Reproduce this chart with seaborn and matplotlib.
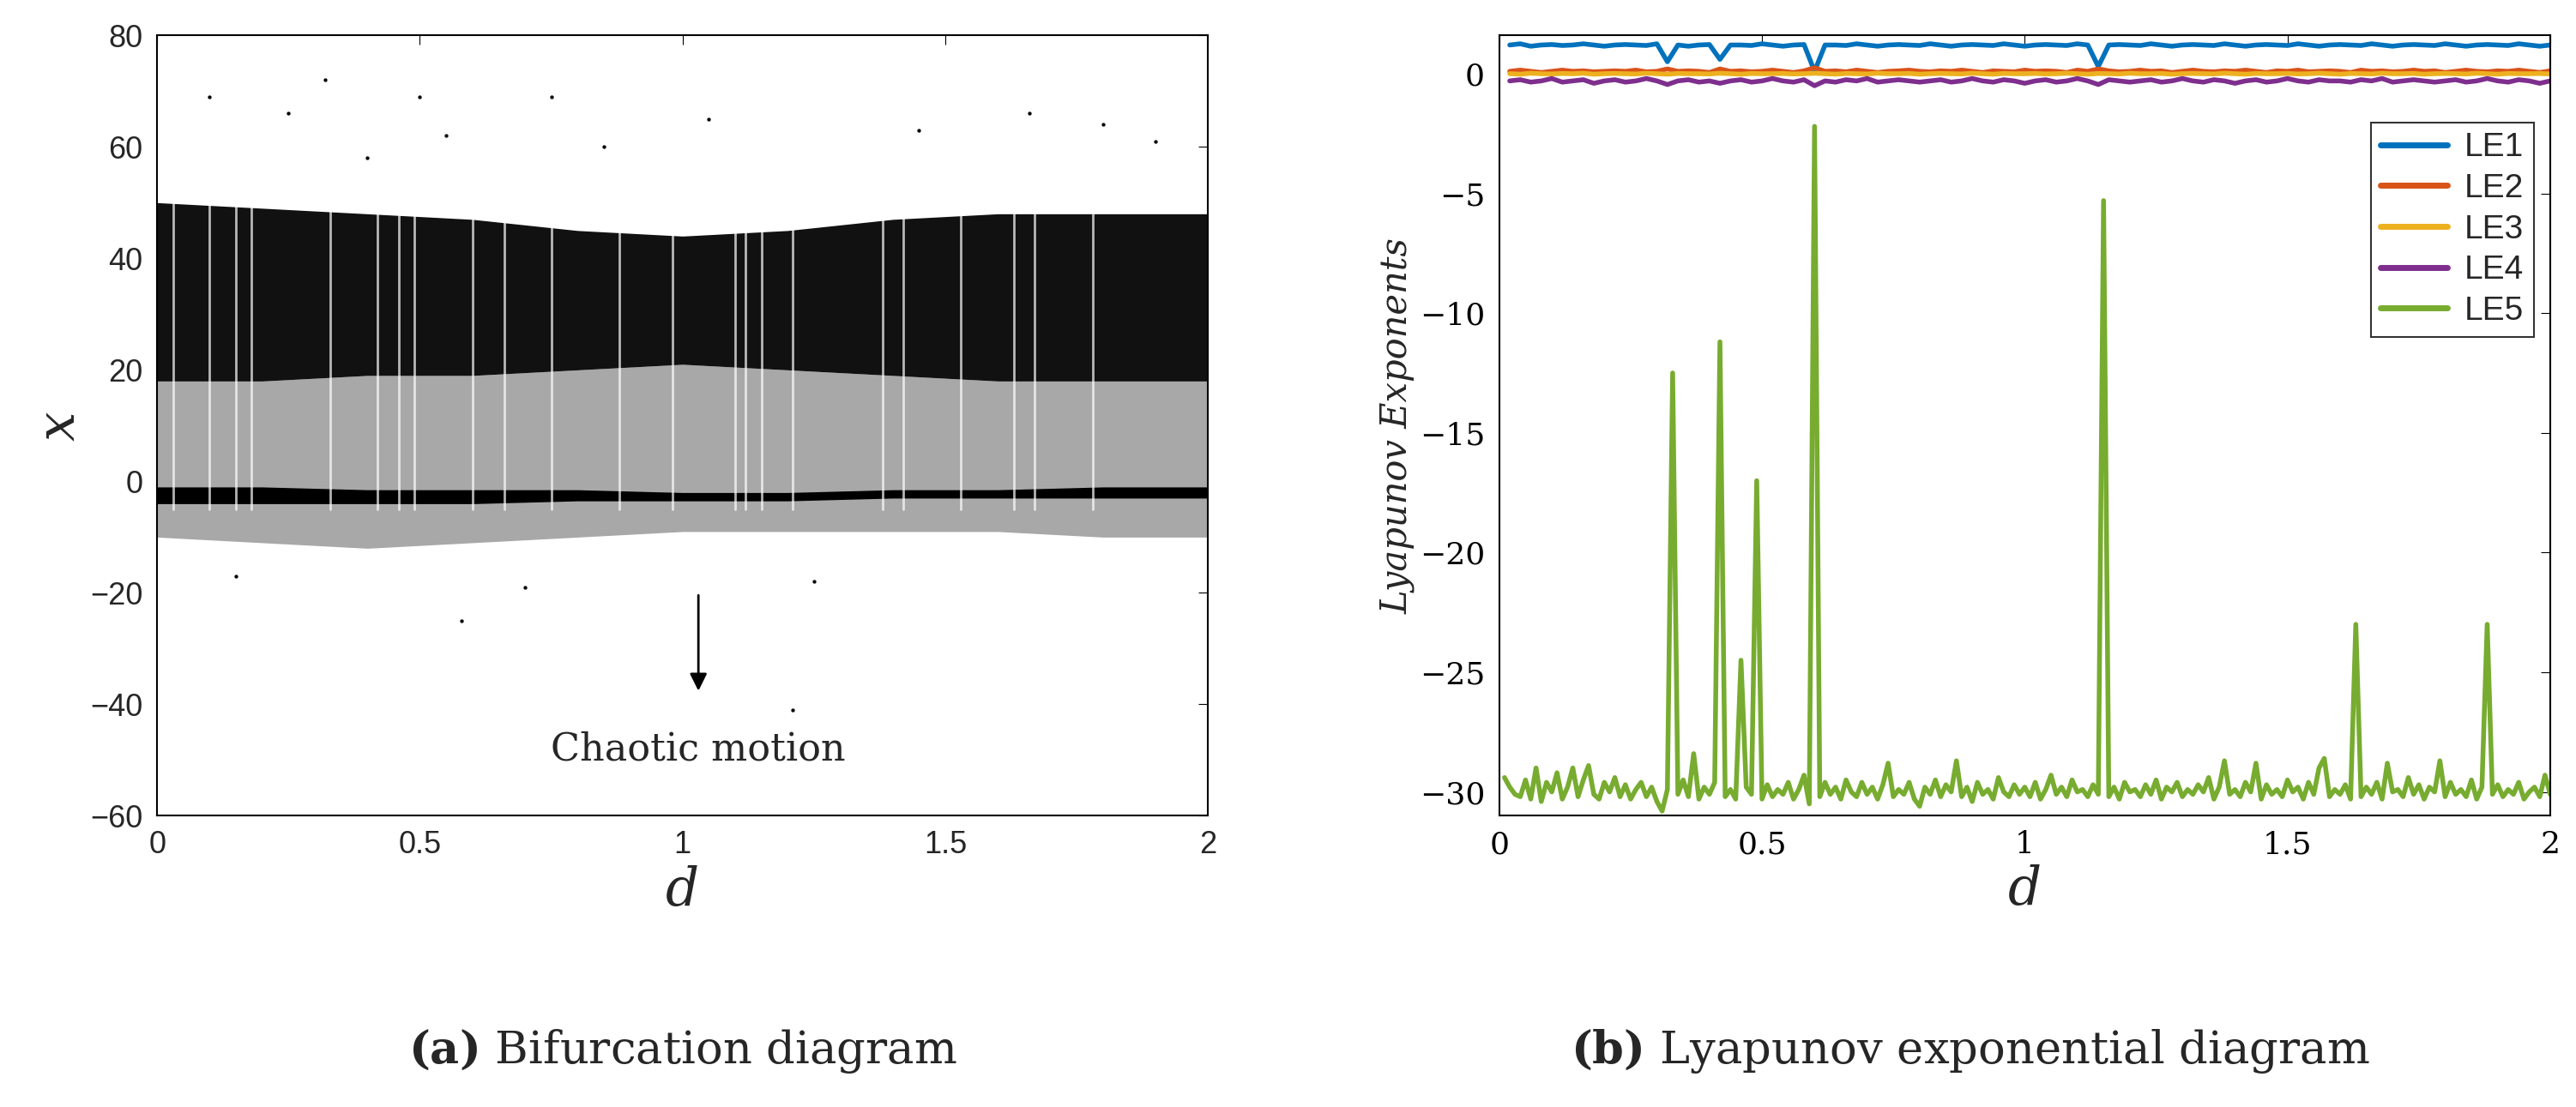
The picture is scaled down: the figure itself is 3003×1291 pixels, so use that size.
import numpy as np
import pandas as pd
import matplotlib
matplotlib.use("Agg")
import matplotlib.pyplot as plt
import seaborn as sns

# ---------------- data: bifurcation envelope ----------------
bif_d = [0.0, 0.2, 0.4, 0.6, 0.8, 1.0, 1.2, 1.4, 1.6, 1.8, 2.0]
dense_top = [50, 49, 48, 47, 45, 44, 45, 47, 48, 48, 48]
dense_bot = [18, 18, 19, 19, 20, 21, 20, 19, 18, 18, 18]
sparse_top = [18, 18, 19, 19, 20, 21, 20, 19, 18, 18, 18]
sparse_bot = [-10, -11, -12, -11, -10, -9, -9, -9, -9, -10, -10]
line_top = [-1, -1, -1.5, -1.5, -1.5, -2, -2, -1.5, -1.5, -1, -1]
line_bot = [-4, -4, -4, -4, -3.5, -3.5, -3.5, -3, -3, -3, -3]
windows = [0.03, 0.1, 0.15, 0.18, 0.33, 0.42, 0.46, 0.49, 0.6, 0.66, 0.75,
           0.88, 0.98, 1.1, 1.12, 1.15, 1.21, 1.38, 1.42, 1.53, 1.63, 1.67, 1.78]
out_d = [0.1, 0.25, 0.32, 0.5, 0.55, 0.58, 0.75, 0.85, 1.05, 1.21, 1.25, 1.66, 1.8, 0.15, 0.4, 1.45, 0.7, 1.9]
out_x = [69, 66, 72, 69, 62, -25, 69, 60, 65, -41, -18, 66, 64, -17, 58, 63, -19, 61]

# ---------------- data: Lyapunov exponents ----------------
le5_d = [round(0.01 * i, 2) for i in range(1, 201)]
le5 = [-29.4, -29.8, -30.1, -30.2, -29.5, -30.3, -29.0, -30.4, -29.6, -30.0,
       -29.2, -30.3, -29.8, -29.0, -30.2, -29.5, -28.9, -30.1, -30.3, -29.6,
       -30.0, -29.4, -30.2, -29.7, -30.3, -29.9, -29.6, -30.2, -29.8, -30.4,
       -30.8, -29.9, -12.5, -30.1, -29.5, -30.2, -28.4, -30.3, -29.8, -30.1,
       -29.6, -11.2, -30.2, -29.9, -30.3, -24.5, -29.8, -30.1, -17.0, -30.3,
       -29.7, -30.2, -29.9, -30.1, -29.6, -30.3, -29.9, -29.3, -30.5, -2.2,
       -30.2, -29.6, -30.1, -29.8, -30.3, -29.5, -30.0, -30.2, -29.6, -30.1,
       -29.8, -30.3, -29.7, -28.8, -30.2, -29.9, -30.1, -29.6, -30.3, -30.6,
       -29.8, -30.1, -29.5, -30.2, -29.7, -30.0, -28.7, -30.2, -29.8, -30.4,
       -29.6, -30.1, -29.9, -30.3, -29.4, -30.0, -30.2, -29.7, -30.1, -29.8,
       -30.2, -29.6, -30.3, -29.9, -29.3, -30.1, -29.8, -30.2, -29.5, -30.0,
       -29.9, -30.2, -29.7, -30.1, -5.3, -30.2, -29.8, -30.3, -29.6, -30.0,
       -29.9, -30.2, -29.7, -30.1, -29.5, -30.3, -29.8, -30.0, -29.6, -30.2,
       -29.9, -30.1, -29.7, -30.0, -29.4, -30.3, -29.8, -28.7, -30.1, -29.9,
       -30.2, -29.6, -30.0, -28.8, -30.3, -29.7, -30.1, -29.9, -30.2, -29.5,
       -30.0, -29.8, -30.3, -29.6, -30.1, -29.0, -28.6, -30.2, -29.9, -30.1,
       -29.7, -30.3, -23.0, -30.2, -29.8, -30.1, -29.6, -30.3, -28.8, -30.0,
       -29.9, -30.2, -29.4, -30.1, -29.7, -30.3, -29.8, -30.0, -28.7, -30.2,
       -29.6, -30.1, -29.9, -30.2, -29.5, -30.3, -29.8, -23.0, -30.1, -29.7,
       -30.2, -29.9, -30.1, -29.6, -30.3, -30.0, -29.8, -30.2, -29.3, -30.1]
le_d = [round(0.02 * i, 2) for i in range(1, 101)]
le1 = [1.2, 1.25, 1.15, 1.2, 1.22, 1.18, 1.2, 1.25, 1.2, 1.15,
       1.2, 1.22, 1.2, 1.18, 1.25, 0.5, 1.2, 1.15, 1.2, 1.22,
       0.6, 1.2, 1.2, 1.18, 1.25, 1.2, 1.15, 1.2, 1.22, 0.1,
       1.2, 1.2, 1.18, 1.25, 1.2, 1.15, 1.2, 1.22, 1.2, 1.18,
       1.25, 1.2, 1.15, 1.2, 1.22, 1.2, 1.18, 1.25, 1.2, 1.15,
       1.2, 1.22, 1.2, 1.18, 1.25, 1.2, 0.3, 1.2, 1.22, 1.2,
       1.18, 1.25, 1.2, 1.15, 1.2, 1.22, 1.2, 1.18, 1.25, 1.2,
       1.15, 1.2, 1.22, 1.2, 1.18, 1.25, 1.2, 1.15, 1.2, 1.22,
       1.2, 1.18, 1.25, 1.2, 1.15, 1.2, 1.22, 1.2, 1.18, 1.25,
       1.2, 1.15, 1.2, 1.22, 1.2, 1.18, 1.25, 1.2, 1.15, 1.2]
le2 = [0.1, 0.15, 0.1, 0.05, 0.1, 0.15, 0.1, 0.12, 0.08, 0.1,
       0.12, 0.1, 0.15, 0.08, 0.1, 0.2, 0.1, 0.12, 0.1, 0.05,
       0.2, 0.1, 0.12, 0.08, 0.1, 0.15, 0.1, 0.05, 0.12, 0.25,
       0.1, 0.12, 0.08, 0.15, 0.1, 0.05, 0.1, 0.12, 0.15, 0.1,
       0.08, 0.12, 0.1, 0.15, 0.1, 0.05, 0.12, 0.1, 0.08, 0.15,
       0.1, 0.12, 0.1, 0.05, 0.15, 0.1, 0.2, 0.12, 0.08, 0.1,
       0.15, 0.1, 0.12, 0.05, 0.1, 0.15, 0.1, 0.08, 0.12, 0.1,
       0.15, 0.1, 0.05, 0.12, 0.1, 0.15, 0.08, 0.1, 0.12, 0.1,
       0.05, 0.15, 0.1, 0.12, 0.08, 0.1, 0.15, 0.1, 0.12, 0.05,
       0.1, 0.15, 0.1, 0.08, 0.12, 0.1, 0.15, 0.1, 0.05, 0.12]
le3 = [0.0, -0.02, 0.02, 0.0, -0.01, 0.01, 0.0, 0.02, -0.02, 0.0,
       0.01, 0.0, -0.01, 0.02, 0.0, -0.02, 0.01, 0.0, 0.0, -0.01,
       0.02, 0.0, -0.02, 0.01, 0.0, 0.0, 0.01, -0.01, 0.0, 0.02,
       0.0, -0.02, 0.01, 0.0, -0.01, 0.02, 0.0, 0.0, 0.01, -0.02,
       0.0, 0.01, 0.0, -0.01, 0.02, 0.0, -0.02, 0.01, 0.0, 0.0,
       0.01, -0.01, 0.0, 0.02, 0.0, -0.02, 0.01, 0.0, -0.01, 0.02,
       0.0, 0.0, 0.01, -0.02, 0.0, 0.01, 0.0, -0.01, 0.02, 0.0,
       -0.02, 0.01, 0.0, 0.0, 0.01, -0.01, 0.0, 0.02, 0.0, -0.02,
       0.01, 0.0, -0.01, 0.02, 0.0, 0.0, 0.01, -0.02, 0.0, 0.01,
       0.0, -0.01, 0.02, 0.0, -0.02, 0.01, 0.0, 0.0, 0.01, -0.01]
le4 = [-0.3, -0.25, -0.35, -0.3, -0.2, -0.35, -0.3, -0.25, -0.4, -0.3,
       -0.25, -0.35, -0.3, -0.2, -0.3, -0.45, -0.3, -0.25, -0.35, -0.3,
       -0.4, -0.3, -0.25, -0.35, -0.3, -0.2, -0.3, -0.35, -0.25, -0.5,
       -0.3, -0.35, -0.25, -0.3, -0.2, -0.35, -0.3, -0.25, -0.3, -0.35,
       -0.3, -0.25, -0.35, -0.3, -0.2, -0.3, -0.35, -0.25, -0.3, -0.4,
       -0.3, -0.25, -0.35, -0.3, -0.2, -0.3, -0.45, -0.25, -0.3, -0.35,
       -0.3, -0.25, -0.35, -0.3, -0.2, -0.3, -0.35, -0.25, -0.3, -0.4,
       -0.3, -0.25, -0.35, -0.3, -0.2, -0.3, -0.35, -0.25, -0.3, -0.3,
       -0.35, -0.25, -0.3, -0.2, -0.35, -0.3, -0.25, -0.3, -0.35, -0.3,
       -0.25, -0.35, -0.3, -0.2, -0.3, -0.35, -0.25, -0.3, -0.4, -0.3]

# ---------------- figure ----------------
sns.set_style("white")
plt.rcParams["mathtext.fontset"] = "dejavuserif"
fig = plt.figure(figsize=(30.03, 12.91), dpi=100)
sans = "Liberation Sans"
serif = "DejaVu Serif"
tick_fs = 26

# left: bifurcation
ax1 = fig.add_axes([0.061, 0.263, 0.408, 0.705])
ax1.fill_between(bif_d, sparse_bot, sparse_top, color="#a8a8a8", lw=0)
ax1.fill_between(bif_d, dense_bot, dense_top, color="#111111", lw=0)
ax1.fill_between(bif_d, line_bot, line_top, color="#000000", lw=0)
for w in windows:
    ax1.plot([w, w], [-5, 52], color="white", lw=2, alpha=0.7)
sns.scatterplot(x=out_d, y=out_x, ax=ax1, s=8, color="black", edgecolor=None)
ax1.set_xlim(0, 2)
ax1.set_ylim(-60, 80)
ax1.set_xticks([0, 0.5, 1, 1.5, 2])
ax1.set_xticklabels(["0", "0.5", "1", "1.5", "2"])
ax1.set_yticks(range(-60, 81, 20))
ax1.tick_params(labelsize=tick_fs, direction="in", length=8, top=True, right=True,
                pad=12, colors="black", labelcolor="#262626")
for lab in ax1.get_xticklabels() + ax1.get_yticklabels():
    lab.set_fontfamily(sans)
ax1.set_xlabel("d", fontsize=44, fontstyle="italic", fontfamily=serif)
ax1.set_ylabel("x", fontsize=44, fontstyle="italic", fontfamily=serif)
ax1.annotate("", xy=(1.03, -38), xytext=(1.03, -20),
             arrowprops=dict(arrowstyle="-|>", color="black", lw=2, mutation_scale=30))
ax1.text(1.03, -48, "Chaotic motion", ha="center", va="center", fontsize=32, fontfamily=serif)
for s in ax1.spines.values():
    s.set_color("black"); s.set_linewidth(1.5)

# right: Lyapunov
ax2 = fig.add_axes([0.582, 0.263, 0.408, 0.705])
colors = ["#0072BD", "#D95319", "#EDB120", "#7E2F8E", "#77AC30"]
df = pd.concat([
    pd.DataFrame({"d": le_d, "v": le1, "s": "LE1"}),
    pd.DataFrame({"d": le_d, "v": le2, "s": "LE2"}),
    pd.DataFrame({"d": le_d, "v": le3, "s": "LE3"}),
    pd.DataFrame({"d": le_d, "v": le4, "s": "LE4"}),
    pd.DataFrame({"d": le5_d, "v": le5, "s": "LE5"}),
])
sns.lineplot(data=df, x="d", y="v", hue="s", palette=colors, lw=4, ax=ax2, estimator=None)
ax2.set_xlim(0, 2)
ax2.set_ylim(-31, 1.6)
ax2.set_xticks([0, 0.5, 1, 1.5, 2])
ax2.set_xticklabels(["0", "0.5", "1", "1.5", "2"])
ax2.set_yticks([-30, -25, -20, -15, -10, -5, 0])
ax2.set_yticklabels(["\u221230", "\u221225", "\u221220", "\u221215", "\u221210", "\u22125", "0"])
ax2.tick_params(labelsize=tick_fs, direction="in", length=8, top=True, right=True,
                pad=12, colors="black")
for lab in ax2.get_xticklabels() + ax2.get_yticklabels():
    lab.set_fontfamily(serif)
ax2.set_xlabel("d", fontsize=44, fontstyle="italic", fontfamily=serif)
ax2.set_ylabel("Lyapunov Exponents", fontsize=30, fontstyle="italic", fontfamily=serif)
leg = ax2.legend(loc="upper right", bbox_to_anchor=(1.0, 0.91), fontsize=28, frameon=True,
                 fancybox=False, edgecolor="black", handlelength=2.0, borderpad=0.3,
                 labelspacing=0.3, handletextpad=0.5)
leg.get_frame().set_linewidth(1.5)
for t in leg.get_texts():
    t.set_fontfamily(sans)
for line in leg.get_lines():
    line.set_linewidth(5)
for s in ax2.spines.values():
    s.set_color("black"); s.set_linewidth(1.5)

# captions
fig.text(0.265, 0.05, r"$\mathbf{(a)}$ Bifurcation diagram", ha="center", va="center",
         fontsize=38, fontfamily=serif)
fig.text(0.765, 0.05, r"$\mathbf{(b)}$ Lyapunov exponential diagram", ha="center", va="center",
         fontsize=38, fontfamily=serif)

fig.savefig("out.png", dpi=100)
